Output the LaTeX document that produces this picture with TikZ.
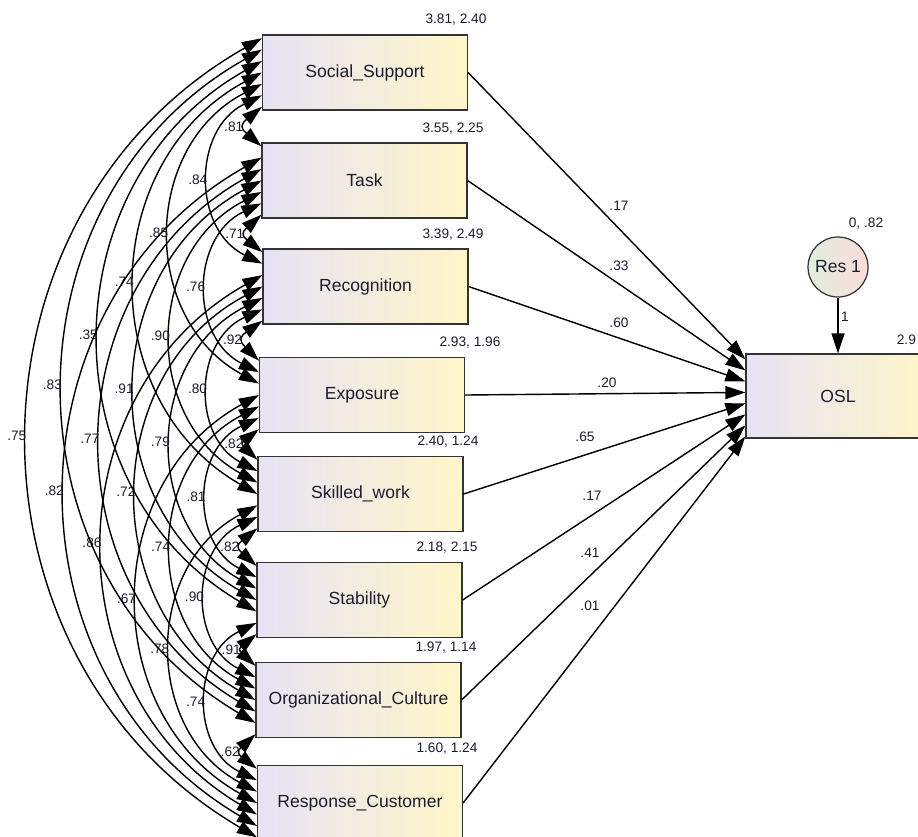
\documentclass[tikz,border=0pt]{standalone}
\usepackage{fontspec}
\setmainfont{Liberation Sans}
\usetikzlibrary{arrows.meta,calc}
\definecolor{boxL}{RGB}{231,227,245}
\definecolor{boxR}{RGB}{255,246,200}
\definecolor{resL}{RGB}{224,238,222}
\definecolor{resR}{RGB}{251,219,217}
\definecolor{txt}{RGB}{28,28,48}
\begin{document}
\begin{tikzpicture}[x=0.02cm, y=0.02cm,
    >={Triangle[length=4mm, width=2.6mm]},
    obs/.style={rectangle, draw=black!80, line width=0.7pt, left color=boxL, right color=boxR,
      minimum width=4.1cm, minimum height=1.5cm, inner sep=0pt,
      font=\fontsize{10}{12}\selectfont, text=txt},
    num/.style={font=\fontsize{7.8}{9}\selectfont, text=txt, inner sep=1pt},
    reg/.style={->, line width=0.8pt},
    cov/.style={<->, line width=0.8pt}]
  \useasboundingbox (0,0) rectangle (918,-836);
  \clip (0,0) rectangle (918,-836);
  % observed variables
  \node[obs] (v1) at (365,-72.5) {Social\_Support};
  \node[obs] (v2) at (364.5,-180.5) {Task};
  \node[obs] (v3) at (365.5,-286.5) {Recognition};
  \node[obs] (v4) at (362,-395) {Exposure};
  \node[obs] (v5) at (360.5,-494) {Skilled\_work};
  \node[obs] (v6) at (359.5,-600) {Stability};
  \node[obs] (v7) at (358.5,-700) {Organizational\_Culture};
  \node[obs] (v8) at (360,-803) {Response\_Customer};
  % means, variances
  \node[num] (m1) at (456,-20) {3.81, 2.40};
  \node[num] (m2) at (453,-129) {3.55, 2.25};
  \node[num] (m3) at (453,-235) {3.39, 2.49};
  \node[num] (m4) at (470,-343) {2.93, 1.96};
  \node[num] (m5) at (448,-442) {2.40, 1.24};
  \node[num] (m6) at (447,-548) {2.18, 2.15};
  \node[num] (m7) at (446,-648) {1.97, 1.14};
  \node[num] (m8) at (447,-749) {1.60, 1.24};
  % outcome and residual
  \node[obs, minimum width=3.68cm, minimum height=1.68cm] (osl) at (838,-396) {OSL};
  \node[circle, draw=black!80, line width=0.7pt, left color=resL, right color=resR,
    minimum size=1.2cm, inner sep=0pt, font=\fontsize{10}{12}\selectfont, text=txt] (res) at (838,-267) {Res 1};
  \node[num] (m9) at (866,-224) {0, .82};
  \node[num, anchor=east] (m10) at (918,-340) {2.9};
  \draw[reg] (res) -- (osl);
  \node[num] (one) at (845,-317) {1};
  % regression weights
  \foreach \i/\w/\lx/\ly in {1/.17/619/206, 2/.33/619/266, 3/.60/619/323, 4/.20/607/383,
      5/.65/585/437, 6/.17/592/496, 7/.41/590/553, 8/.01/590/606}{
    \coordinate (t\i) at ($(osl.north west)+(0,{-6-11*(\i-1)})$);
    \draw[reg] (v\i.east) -- (t\i);
    \node[num] (w\i) at (\lx,-\ly) {\w};
  }
  % correlations
  \foreach \d/\bend/\loose/\vals in {
      1/50/1.8/{.81,.71,.92,.82,.82,.91,.62},
      2/64/1.18/{.84,.76,.80,.81,.90,.74},
      3/62/1.155/{.85,.90,.79,.74,.78},
      4/61/1.14/{.74,.91,.72,.67},
      5/60/1.135/{.35,.77,.86},
      6/60/1.135/{.83,.82},
      7/60/1.135/{.75}}{
    \foreach \v [count=\i] in \vals {
      \pgfmathtruncatemacro\j{\i+\d}
      \pgfmathsetmacro\fa{0.05+0.9*(7-\d)/6}
      \pgfmathsetmacro\fb{0.05+0.9*(\d-1)/6}
      \draw[cov] ($(v\i.north west)!\fa!(v\i.south west)$)
        to[bend right=\bend, looseness=\loose] node[num, midway, anchor=east] {\v}
        ($(v\j.north west)!\fb!(v\j.south west)$);
    }
  }
\end{tikzpicture}
\end{document}
